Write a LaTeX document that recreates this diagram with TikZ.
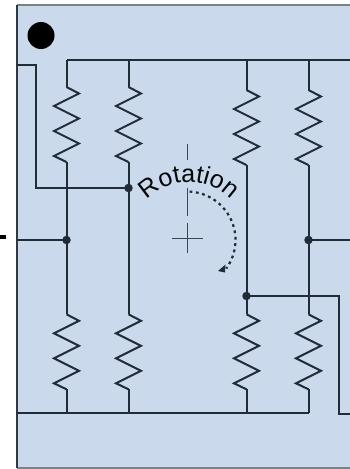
\documentclass[tikz,border=0pt]{standalone}
\usepackage{fontspec}
\setmainfont{Liberation Sans}
\usetikzlibrary{decorations.text,arrows.meta}
\definecolor{panel}{HTML}{CBD9EC}
\definecolor{wire}{HTML}{222B38}
\tikzset{
  x=1pt,y=-1pt,
  wirel/.style={draw=wire,line width=2pt,line join=miter},
  junction/.style={circle,fill=wire,draw=none,inner sep=0pt,minimum size=8.5pt},
  axisl/.style={draw=wire!85!panel,line width=1pt},
  spring/.pic={\draw[wirel] (0,0) -- (12.5,6.5) -- (-12.5,19) -- (12.5,31.5) -- (-12.5,44) -- (12.5,56.5) -- (-12.5,69) -- (0,75);}
}
\begin{document}
\begin{tikzpicture}
\useasboundingbox (0,0) rectangle (350,469);
\fill[white] (0,0) rectangle (350,469);
\fill[panel] (17,5) rectangle (350,468);
\draw[color=gray,line width=1.4pt] (350,5) -- (17,5);
\draw[color=gray,line width=1.4pt] (17,468) -- (350,468);
\draw[color=wire!85!gray,line width=1.4pt] (17,5) -- (17,468);
\fill[black] (0,234.5) rectangle (6,239);
% marker
\node[circle,fill=black,inner sep=0pt,minimum size=27pt] (marker) at (41,35.5) {};
% bus coordinates
\coordinate (topL) at (66.5,60);
\coordinate (topA) at (128.5,60);
\coordinate (topB) at (246.5,60);
\coordinate (topC) at (308.5,60);
\coordinate (topR) at (350,60);
\coordinate (botL) at (17,413);
\coordinate (botD) at (66.5,413);
\coordinate (botA) at (128.5,413);
\coordinate (botB) at (246.5,413);
\coordinate (botC) at (308.5,413);
% junctions
\node[junction] (jL) at (66.5,240) {};
\node[junction] (jA) at (128.5,188) {};
\node[junction] (jC) at (308.5,240) {};
\node[junction] (jB) at (246.5,296) {};
% buses
\draw[wirel] (topL) -- (topR);
\draw[wirel] (botL) -- (botC);
% columns
\draw[wirel] (topL) -- (66.5,87) (66.5,161.7) -- (66.5,314.3) (66.5,389) -- (botD);
\draw[wirel] (topA) -- (128.5,87) (128.5,161.7) -- (128.5,314.3) (128.5,389) -- (botA);
\draw[wirel] (topB) -- (246.5,90) (246.5,165) -- (246.5,314.3) (246.5,389) -- (botB);
\draw[wirel] (topC) -- (308.5,90) (308.5,165) -- (308.5,314.3) (308.5,389) -- (botC);
% springs
\pic at (66.5,87) {spring};
\pic at (128.5,87) {spring};
\pic at (246.5,90) {spring};
\pic at (308.5,90) {spring};
\pic at (66.5,314.3) {spring};
\pic at (128.5,314.3) {spring};
\pic at (246.5,314.3) {spring};
\pic at (308.5,314.3) {spring};
% connections
\coordinate (inA) at (17,64.5);
\coordinate (inL) at (17,240);
\coordinate (outC) at (350,240);
\coordinate (outB) at (350,414);
\draw[wirel] (inA) -- (36,64.5) -- (36,188) -- (jA.center);
\draw[wirel] (inL) -- (jL.center);
\draw[wirel] (jC.center) -- (outC);
\draw[wirel] (jB.center) -- (339,296) -- (339,414) -- (outB);
% axis
\draw[axisl] (172,238.5) -- (203,238.5);
\draw[axisl] (187.3,223) -- (187.3,253);
\draw[axisl] (187.3,144) -- (187.3,160);
\draw[axisl] (187.3,188) -- (187.3,216);
% rotation arrow
\draw[wire,line width=2.2pt,dash pattern=on 2.8pt off 3.6pt,domain=87:-36,samples=40,smooth]
  plot ({187+48.5*cos(\x)},{240-48.5*sin(\x)});
\fill[wire] (218,271) -- (225.5,264.5) -- (225,272.5) -- cycle;
% label
\path[decorate,decoration={text along path,text align=center,
  text={|\fontsize{25}{25}\selectfont\color{black!85!wire}|Rotation}}]
  (136.43,215.49) .. controls (157.25,170.84) and (220.75,170.84) .. (241.57,215.49);
\end{tikzpicture}
\end{document}
